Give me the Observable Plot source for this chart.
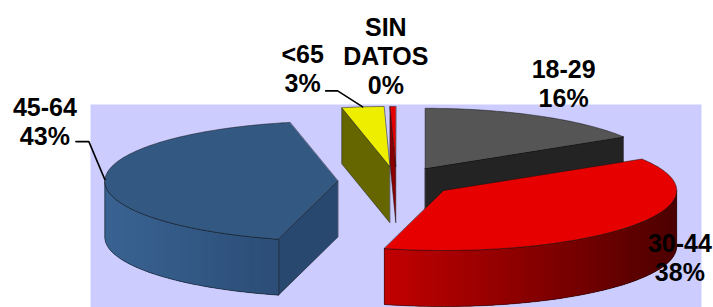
<!DOCTYPE html>
<html><head><meta charset="utf-8">
<script src="https://cdn.jsdelivr.net/npm/d3@7"></script>
<script src="https://cdn.jsdelivr.net/npm/@observablehq/plot@0.6"></script>
<style>body{margin:0;background:#fff}#chart{width:713px;height:307px}</style>
</head><body><div id="chart"></div>
<script>
// ---- data ----
const categories = ["18-29", "30-44", "45-64", "<65", "SIN DATOS"];
const shares = [16.2, 37.9, 42.6, 2.9, 0.4];
const percentLabels = ["16%", "38%", "43%", "3%", "0%"];

// ---- style / layout ----
const topColors  = ["#555555", "#e60000", "#335983", "#eeee00", "#e60000"];
const faceColors = ["#232323", "#7a0000", "#28486f", "#666600", "#8a0000"];
const sideRamp   = [null, ["#c20000", "#4c0000"], ["#3a6392", "#2b4d77"], null, null];
const labelOffsets = [[25, -58], [49, 5], [-60, -84], [-60, -64], [-7, -91]]; // px from edge point
const leaderOffsets = {2: [[-16, -38], [-29, -38]], 3: [[-25, -16], [-37, -16]]};
const PX = 233;            // pixels per pie radius
const K = 60 / 233;        // vertical squash of the pie
const DEPTH = 56 / 233;    // thickness
const EXPLODE = 0.252;     // explosion distance (radius units)

const arcs = d3.pie().sort(null).value(d => d)(shares);
const slices = arcs.map((a, i) => {
  const m = (a.startAngle + a.endAngle) / 2;
  return {i, a0: a.startAngle, a1: a.endAngle, m,
          c: {u: EXPLODE * Math.sin(m), w: -EXPLODE * Math.cos(m) * K}};
});
const pt = (c, t, r = 1, d = 0) => ({u: c.u + r * Math.sin(t), w: c.w - r * Math.cos(t) * K + d});
const arcPts = (c, t0, t1, d = 0, stepDeg = 1) => {
  const n = Math.max(2, Math.ceil(Math.abs(t1 - t0) / (stepDeg * Math.PI / 180)));
  return d3.range(n + 1).map(j => pt(c, t0 + (t1 - t0) * j / n, 1, d));
};

const polys = [];
const order = slices.slice().sort((a, b) => a.c.w - b.c.w);
for (const s of order) {
  const {c, a0, a1, i} = s;
  // radial faces
  const faces = [];
  if (Math.sin(a0) < -1e-6) faces.push(a0);
  if (Math.sin(a1) > 1e-6) faces.push(a1);
  for (const t of faces) {
    const e = pt(c, t);
    polys.push({pts: [{u: c.u, w: c.w}, e, {u: e.u, w: e.w + DEPTH}, {u: c.u, w: c.w + DEPTH}],
                fill: faceColors[i], stroke: "#111", sw: 0.7, so: 0.7});
  }
  // outer curved side (front half)
  const b0 = Math.max(a0, Math.PI / 2), b1 = Math.min(a1, 3 * Math.PI / 2);
  if (b1 > b0) {
    const ramp = sideRamp[i] || [faceColors[i], faceColors[i]];
    const col = d3.interpolateRgb(ramp[0], ramp[1]);
    const top = arcPts(c, b0, b1, 0, 1.5);
    const uMin = d3.min(top, p => p.u), uMax = d3.max(top, p => p.u);
    const outline = top.concat(top.slice().reverse().map(p => ({u: p.u, w: p.w + DEPTH})));
    polys.push({pts: outline, fill: col(0.5), stroke: "none", sw: 0, so: 0});
    for (let j = 0; j < top.length - 1; j++) {
      const seg = top.slice(j, Math.min(top.length, j + 3));
      const f = col(((top[j].u + top[j + 1].u) / 2 - uMin) / (uMax - uMin));
      const quad = seg.concat(seg.slice().reverse().map(p => ({u: p.u, w: p.w + DEPTH})));
      polys.push({pts: quad, fill: f, stroke: "none", sw: 0, so: 0});
    }
    polys.push({pts: outline, fill: "none", stroke: "#111", sw: 0.7, so: 0.7});
  }
  // top face
  polys.push({pts: [{u: c.u, w: c.w}, ...arcPts(c, a0, a1)], fill: topColors[i], stroke: "#111", sw: 0.7, so: 0.7});
}

const marks = [Plot.frame({fill: "#ccccff", stroke: null})];
for (const p of polys) {
  marks.push(Plot.line(p.pts, {x: "u", y: "w", curve: "linear-closed", fill: p.fill,
    stroke: p.stroke, strokeWidth: p.sw, strokeOpacity: p.so}));
}
// leaders
for (const [k, offs] of Object.entries(leaderOffsets)) {
  const s = slices[+k];
  const P = pt(s.c, s.m);
  const line = [P, ...offs.map(([dx, dy]) => ({u: P.u + dx / PX, w: P.w + dy / PX}))];
  marks.push(Plot.line(line, {x: "u", y: "w", stroke: "#000", strokeWidth: 1.6}));
}
// labels
slices.forEach((s, i) => {
  const P = pt(s.c, s.m);
  const text = categories[i].split(" ").join("\n") + "\n" + percentLabels[i];
  marks.push(Plot.text([{u: P.u, w: P.w, t: text}], {x: "u", y: "w", text: "t",
    dx: labelOffsets[i][0], dy: labelOffsets[i][1], lineAnchor: "top", lineHeight: 1.16,
    fontSize: 25, fontWeight: "bold", fill: "#000", textAnchor: "middle"}));
});

const chart = Plot.plot({
  width: 713, height: 307,
  marginLeft: 90, marginRight: 12, marginTop: 104, marginBottom: 0,
  x: {domain: [(90 - 396) / PX, (701 - 396) / PX], axis: null},
  y: {domain: [(104 - 181) / PX, (307 - 181) / PX], reverse: true, axis: null},
  style: {fontFamily: "'Liberation Sans', Arial, sans-serif", background: "#fff", overflow: "visible"},
  marks
});
document.getElementById("chart").appendChild(chart);
</script>
</body></html>
